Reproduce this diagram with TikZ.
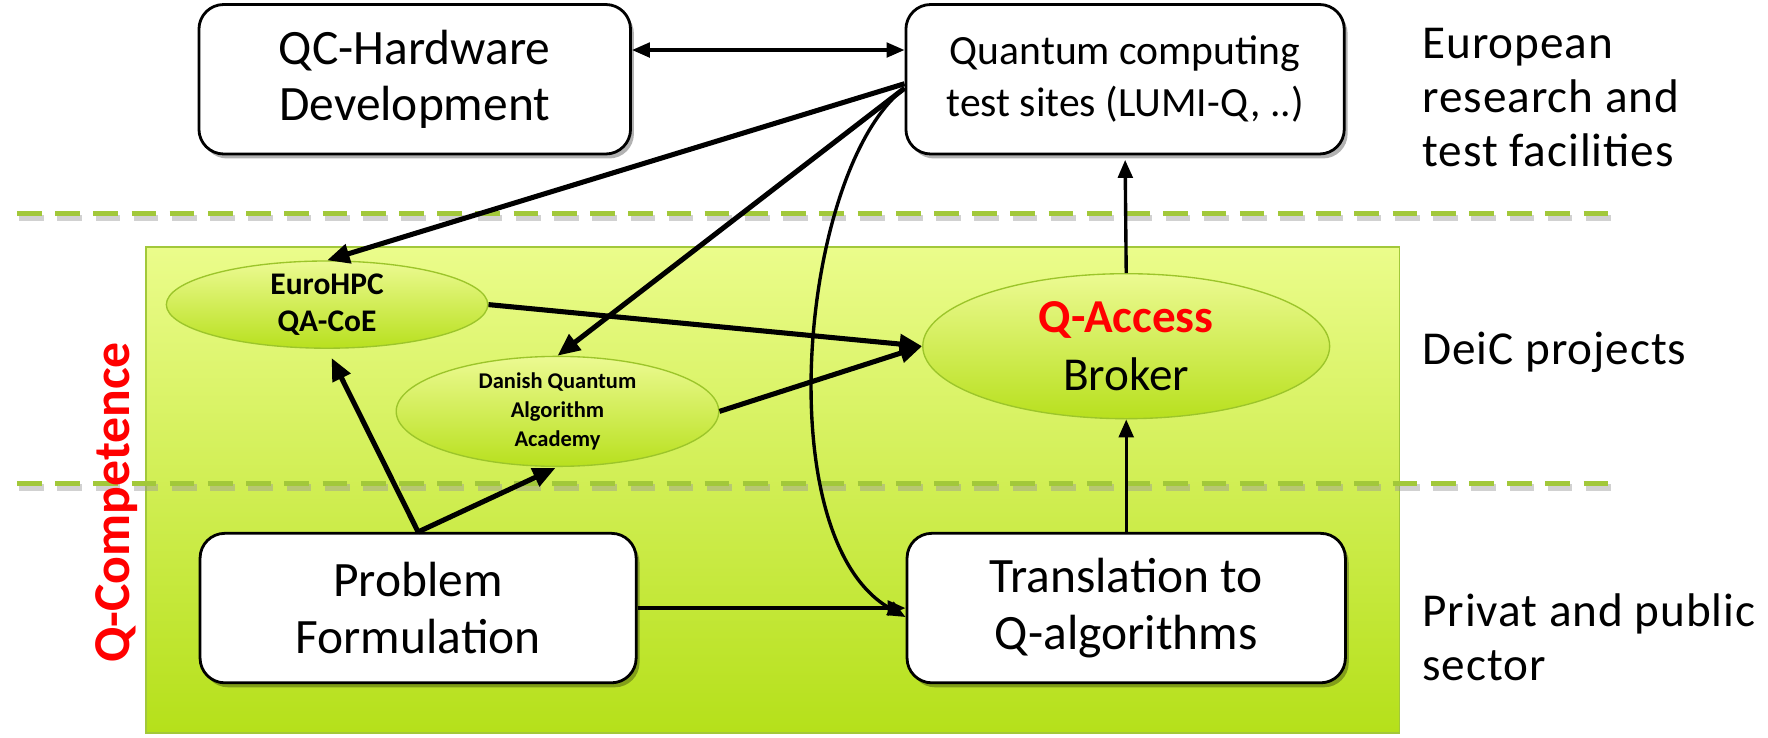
\documentclass[tikz,border=0pt]{standalone}
\usepackage{fontspec}
\setmainfont{Carlito}
\newfontfamily\widefont[LetterSpace=2]{Carlito}
\usetikzlibrary{arrows.meta,shapes.geometric,shadows}
\definecolor{gtop}{HTML}{EBFC8B}
\definecolor{gmid}{HTML}{D8EF68}
\definecolor{gbot}{HTML}{B5E01A}
\definecolor{gline}{HTML}{A2C83A}
\definecolor{eborder}{HTML}{9CC52A}
\definecolor{etop}{HTML}{ECFA92}
\definecolor{ebot}{HTML}{B8E01E}
\definecolor{qred}{HTML}{FF0000}
\tikzset{
  wbox/.style={draw=black, line width=2.5pt, rounded corners=22pt, fill=white,
    minimum width=388pt, minimum height=133pt, inner sep=0pt, align=center,
    font=\fontsize{44}{50}\selectfont,
    drop shadow={shadow xshift=3pt, shadow yshift=-4pt, opacity=0.3, fill=black}},
  gell/.style={ellipse, draw=eborder, line width=1.2pt, top color=etop, bottom color=ebot,
    inner sep=0pt, align=center},
  thickarr/.style={line width=4.5pt, -{Triangle[length=20pt,width=17pt]}},
  thinarr/.style={line width=3pt, -{Triangle[length=16pt,width=13pt]}},
  sidelabel/.style={anchor=west, align=left, font=\widefont\fontsize{42}{48}\selectfont},
  greendash/.style={line width=5pt, draw=gline, dash pattern=on 22pt off 12pt},
  shadowdash/.style={line width=6pt, draw=black!40, opacity=0.45, dash pattern=on 22pt off 12pt},
}
\begin{document}
\begin{tikzpicture}[x=1pt,y=-1pt]
\useasboundingbox (0,0) rectangle (1573,656);
% green competence area
\shade[top color=gtop, middle color=gmid, bottom color=gbot] (130,220) rectangle (1245,652);
\draw[gline, line width=1.5pt] (130,220) rectangle (1245,652);
% dashed separators
\draw[shadowdash] (17,194) -- (1437,194);
\draw[greendash] (15,190) -- (1435,190);
\draw[shadowdash] (17,434) -- (1437,434);
\draw[greendash] (15,430) -- (1435,430);
% boxes
\node[wbox, minimum width=384pt] (hw) at (369,70.5) {QC-Hardware\\Development};
\node[wbox, minimum width=390pt, font=\fontsize{37}{46}\selectfont] (qc) at (1001,70.5) {Quantum computing\\test sites (LUMI-Q, ..)};
\node[wbox] (pf) at (372,541) {Problem\\Formulation};
\node[wbox, minimum width=390pt] (tr) at (1002,541) {Translation to\\Q-algorithms};
% ellipses
\node[gell, minimum width=286pt, minimum height=76pt, font=\bfseries\fontsize{28}{33}\selectfont] (euro) at (291,271) {EuroHPC\\QA-CoE};
\node[gell, minimum width=287pt, minimum height=74pt, font=\bfseries\fontsize{20}{26}\selectfont] (dqaa) at (496,366) {Danish Quantum\\Algorithm\\Academy};
\node[gell, minimum width=362pt, minimum height=129pt, font=\fontsize{42}{52}\selectfont] (qa) at (1002,308) {{\color{qred}\bfseries Q-Access}\\Broker};
% connectors
\draw[line width=3pt, {Triangle[length=16pt,width=13pt]}-{Triangle[length=16pt,width=13pt]}] ([yshift=26pt]hw.east) -- ([yshift=26pt]qc.west);
\draw[thickarr] ([yshift=-4pt]qc.west) -- (euro.north);
\draw[thickarr] ([yshift=-8pt]qc.west) -- (dqaa.north);
\draw[thinarr] ([yshift=-8pt]qc.west) .. controls (712,150) and (682,480) .. ([yshift=-8pt]tr.west);
\draw[thickarr] (euro.east) -- (qa.west);
\draw[thickarr] (dqaa.east) -- (qa.west);
\draw[thinarr, shorten >=4pt] (qa.north) -- (qc.south);
\draw[thinarr] (tr.north) -- (qa.south);
\draw[thickarr, shorten >=9pt] (pf.north) -- (euro.south);
\draw[thickarr, shorten >=2pt] (pf.north) -- (dqaa.south);
\draw[line width=3.5pt, -{Triangle[length=16pt,width=13pt]}] (pf.east) -- (tr.west);
% labels
\node[rotate=90, text=qred, font=\bfseries\fontsize{46}{46}\selectfont] (qcomp) at (104,447) {Q-Competence};
\node[sidelabel] (eur) at (1262,87) {European\\research and\\test facilities};
\node[sidelabel] (deic) at (1262,313) {DeiC projects};
\node[sidelabel] (priv) at (1262,567) {Privat and public\\sector};
\end{tikzpicture}
\end{document}
